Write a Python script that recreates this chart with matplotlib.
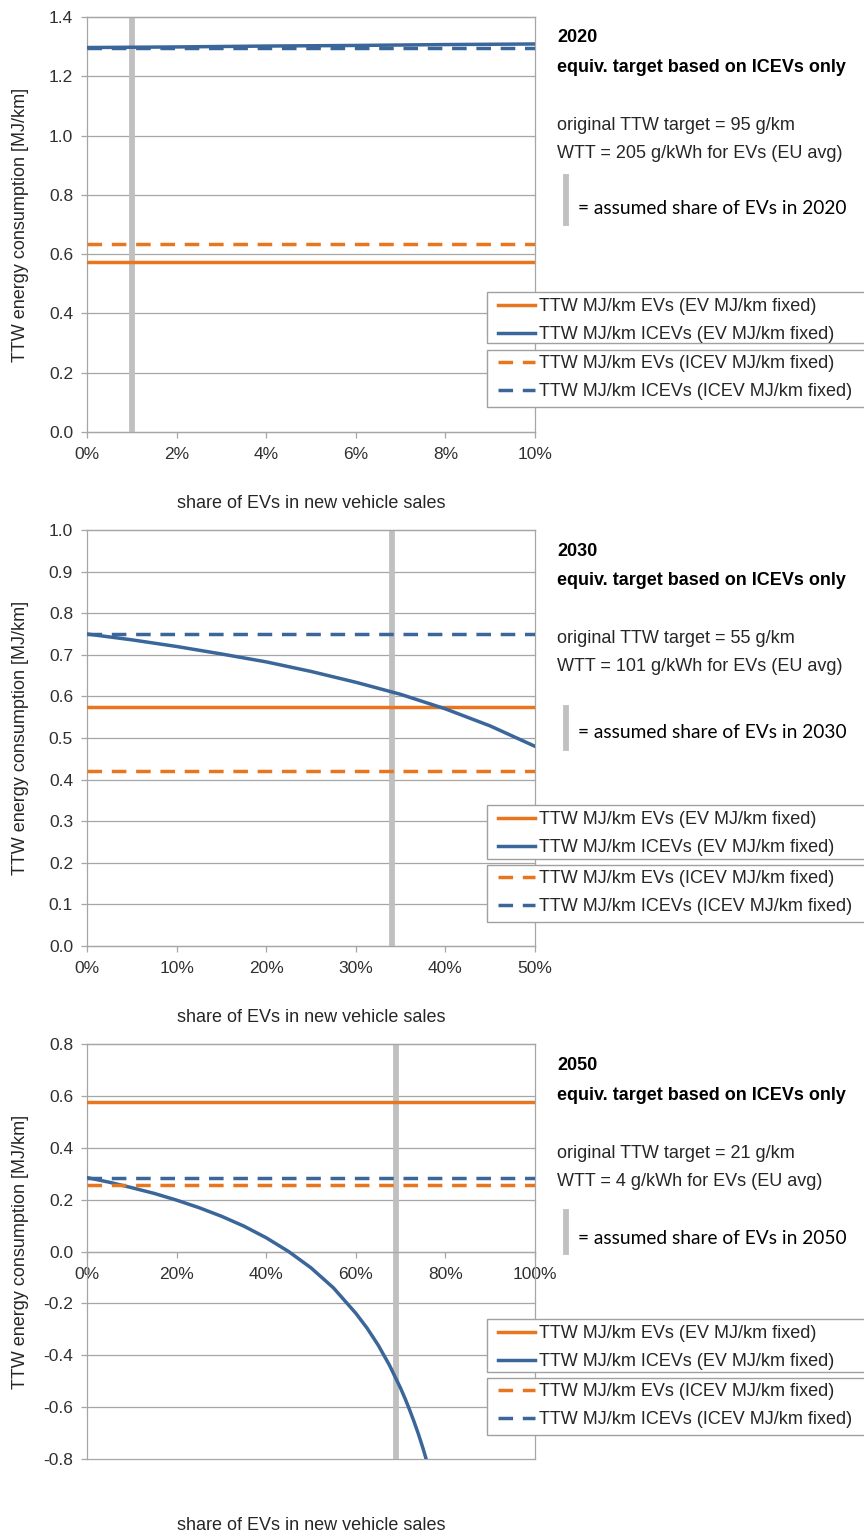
import matplotlib
matplotlib.use("Agg")
import matplotlib.pyplot as plt
from matplotlib.lines import Line2D
from matplotlib.patches import Rectangle
from matplotlib.ticker import PercentFormatter, FormatStrFormatter, MultipleLocator

plt.rcParams['font.family'] = ['Liberation Sans', 'DejaVu Sans']
plt.rcParams['axes.unicode_minus'] = False

# ---- values ----
years = ['2020', '2030', '2050']
ttw_target = [95, 55, 21]          # g/km
wtt_ev = [205, 101, 4]             # g/kWh
assumed_share = [0.01, 0.34, 0.69]
share_max = [0.10, 0.50, 1.00]
y_min = [0.0, 0.0, -0.8]
y_max = [1.4, 1.0, 0.8]
x_step = [0.02, 0.10, 0.20]
y_step = [0.2, 0.1, 0.2]

# constant levels (MJ/km)
ev_level_evfixed = [0.575, 0.575, 0.576]
ev_level_icevfixed = [0.635, 0.42, 0.258]
icev_level_icevfixed = [1.297, 0.75, 0.283]

# TTW MJ/km ICEVs with EV MJ/km fixed
share_2020 = [0.0, 0.02, 0.04, 0.06, 0.08, 0.10]
icev_2020 = [1.297, 1.299, 1.302, 1.304, 1.307, 1.309]

share_2030 = [0.0, 0.05, 0.10, 0.15, 0.20, 0.25, 0.30, 0.35, 0.40, 0.45, 0.50]
icev_2030 = [0.750, 0.736, 0.720, 0.702, 0.683, 0.660, 0.634, 0.605, 0.570, 0.529, 0.480]

share_2050 = [0.0, 0.05, 0.10, 0.15, 0.20, 0.25, 0.30, 0.35, 0.40, 0.45, 0.50,
              0.55, 0.60, 0.625, 0.65, 0.675, 0.70, 0.71, 0.72, 0.73, 0.74, 0.75, 0.757]
icev_2050 = [0.285, 0.267, 0.246, 0.224, 0.198, 0.169, 0.136, 0.098, 0.053, 0.000, -0.063,
             -0.140, -0.238, -0.295, -0.361, -0.438, -0.527, -0.567, -0.610, -0.656,
             -0.705, -0.759, -0.800]

shares = [share_2020, share_2030, share_2050]
icev_curves = [icev_2020, icev_2030, icev_2050]

labels = ['TTW MJ/km EVs (EV MJ/km fixed)', 'TTW MJ/km ICEVs (EV MJ/km fixed)',
          'TTW MJ/km EVs (ICEV MJ/km fixed)', 'TTW MJ/km ICEVs (ICEV MJ/km fixed)']

# ---- layout (pixels of the 864x1532 picture) ----
W, H = 864, 1532
ax_px = [(17, 432), (530, 946), (1044, 1459)]
box1_px = [(292, 343), (805, 859), (1319, 1372)]
box2_px = [(350, 407), (865, 922), (1378, 1435)]
note_y = [208, 733, 1238]
bar_px = [(177, 223), (708, 748), (1212, 1252)]

ORANGE = '#e8761e'
BLUE = '#3b6699'
GRID = '#a6a6a6'
BAR = '#c0c0c0'

fig = plt.figure(figsize=(W / 100, H / 100), dpi=100)

for i in range(3):
    top, bot = ax_px[i]
    ax = fig.add_axes([87 / W, 1 - bot / H, 448 / W, (bot - top) / H])
    x_full = [0.0, share_max[i]]

    ax.axvline(assumed_share[i], color=BAR, lw=4.2, zorder=1.5)
    h1, = ax.plot(x_full, [ev_level_evfixed[i]] * 2, color=ORANGE, lw=2.5, zorder=3)
    h2, = ax.plot(shares[i], icev_curves[i], color=BLUE, lw=2.5, zorder=3)
    h3, = ax.plot(x_full, [ev_level_icevfixed[i]] * 2, color=ORANGE, lw=2.5,
                  dashes=(4.2, 2.8), zorder=3)
    h4, = ax.plot(x_full, [icev_level_icevfixed[i]] * 2, color=BLUE, lw=2.5,
                  dashes=(4.2, 2.8), zorder=3)

    ax.set_xlim(0, share_max[i])
    ax.set_ylim(y_min[i], y_max[i])
    ax.xaxis.set_major_locator(MultipleLocator(x_step[i]))
    ax.yaxis.set_major_locator(MultipleLocator(y_step[i]))
    ax.xaxis.set_major_formatter(PercentFormatter(xmax=1, decimals=0))
    ax.yaxis.set_major_formatter(FormatStrFormatter('%.1f'))
    ax.grid(axis='y', color=GRID, lw=0.9)
    for gl in ax.get_ygridlines():
        gl.set_clip_on(False)
    ax.set_axisbelow(True)
    for s in ax.spines.values():
        s.set_color(GRID)
        s.set_linewidth(0.9)
    if y_min[i] < 0:
        ax.spines['bottom'].set_position(('data', 0))
    ax.tick_params(axis='both', direction='out', length=4, width=0.9, color=GRID,
                   labelsize=12.5, labelcolor='#303030')
    ax.tick_params(axis='y', pad=6)
    ax.tick_params(axis='x', pad=7)

    ax.set_ylabel('TTW energy consumption [MJ/km]', fontsize=13, color='#262626')
    ax.yaxis.set_label_coords(-0.129, 0.5)
    ax.set_xlabel('share of EVs in new vehicle sales', fontsize=13, color='#262626')
    off = 63 if i < 2 else 58
    ax.xaxis.set_label_coords(0.5, -off / (bot - top))

    # two legend boxes running off the right edge
    for (b_top, b_bot) in (box1_px[i], box2_px[i]):
        ax.add_patch(Rectangle((487 / W, 1 - b_bot / H), 400 / W, (b_bot - b_top) / H,
                               transform=fig.transFigure, facecolor='white',
                               edgecolor='#a0a0a0', lw=1.0, clip_on=False, zorder=4.5))
    leg_kw = dict(loc='upper left', bbox_transform=fig.transFigure, frameon=False,
                  fontsize=13, handlelength=2.05, handletextpad=0.2, borderpad=0.0,
                  labelspacing=0.6, borderaxespad=0)
    leg1 = ax.legend([h1, h2], labels[:2],
                     bbox_to_anchor=(498 / W, 1 - (box1_px[i][0] + 6) / H), **leg_kw)
    ax.add_artist(leg1)
    leg2 = ax.legend([h3, h4], labels[2:],
                     bbox_to_anchor=(498 / W, 1 - (box2_px[i][0] + 5) / H), **leg_kw)
    for leg in (leg1, leg2):
        leg.set_zorder(6)
        for t in leg.get_texts():
            t.set_color('#262626')

    # notes to the right
    tx = 557 / W
    fig.text(tx, 1 - (top + 21) / H, years[i], fontsize=13, fontweight='bold', va='center')
    fig.text(tx, 1 - (top + 51) / H, 'equiv. target based on ICEVs only', fontsize=13,
             fontweight='bold', va='center')
    fig.text(tx, 1 - (top + 109) / H, f'original TTW target = {ttw_target[i]} g/km',
             fontsize=13, va='center', color='#262626')
    fig.text(tx, 1 - (top + 137) / H, f'WTT = {wtt_ev[i]} g/kWh for EVs (EU avg)',
             fontsize=13, va='center', color='#262626')
    b0, b1 = bar_px[i]
    fig.add_artist(Line2D([566 / W, 566 / W], [1 - b0 / H, 1 - b1 / H],
                          transform=fig.transFigure, color=BAR, lw=4.2))
    fig.text(578 / W, 1 - note_y[i] / H, f'= assumed share of EVs in {years[i]}',
             fontsize=13.8, family=['Lato', 'DejaVu Sans'], va='center')

fig.savefig('out.png', dpi=100)
